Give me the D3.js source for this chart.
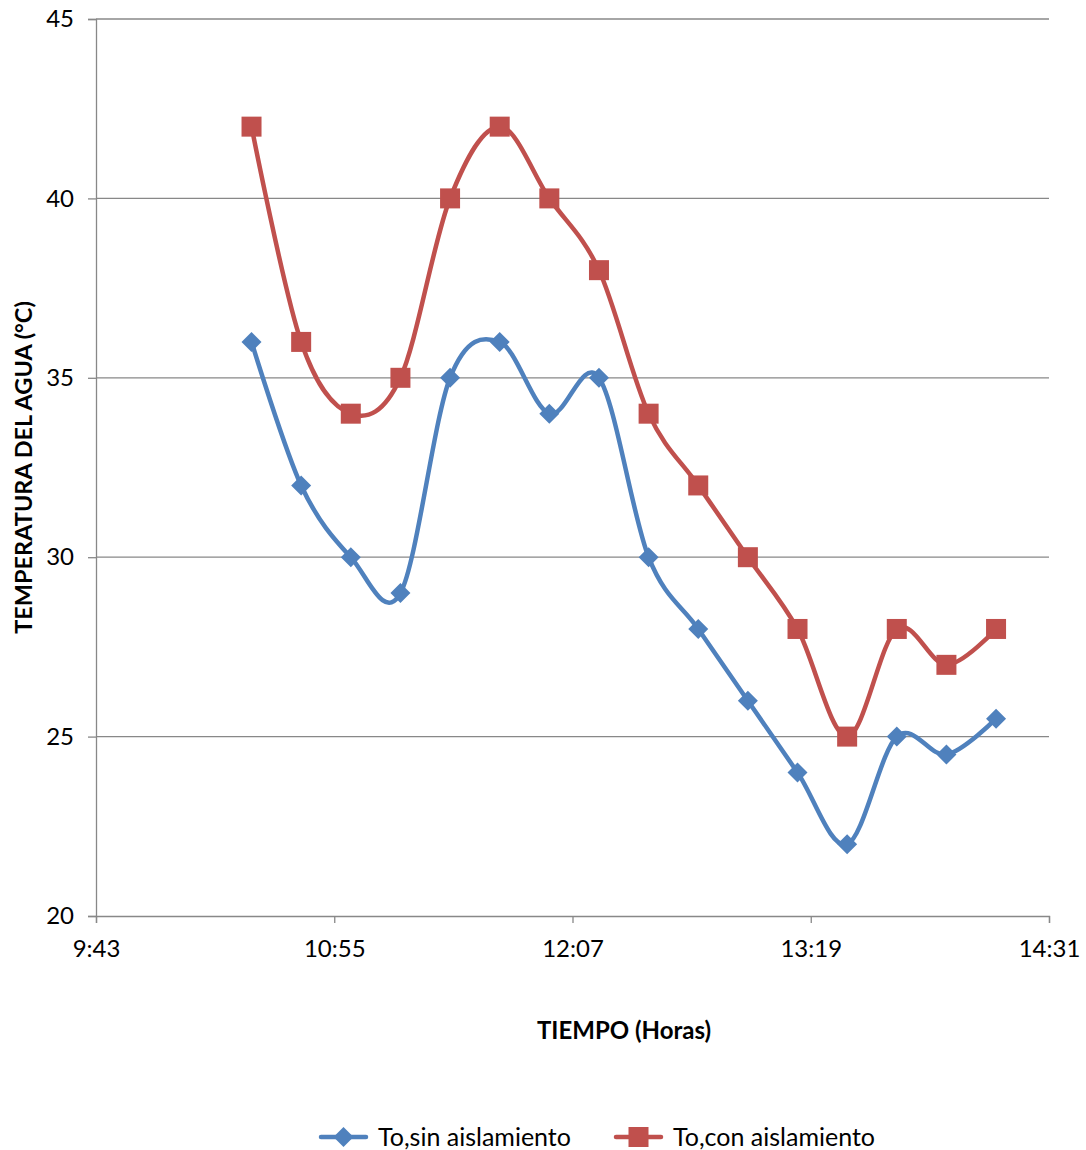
<!DOCTYPE html>
<html>
<head>
<meta charset="utf-8">
<script src="https://cdn.jsdelivr.net/npm/d3@7"></script>
<style>
  html, body { margin: 0; padding: 0; background: #fff; }
  svg { display: block; font-family: Lato, "Open Sans", sans-serif; }
</style>
</head>
<body>
<svg id="chart" width="1086" height="1150"></svg>
<script>
// Sampling times (every 15 minutes) and water temperatures in °C
const times = ["10:30","10:45","11:00","11:15","11:30","11:45","12:00","12:15",
               "12:30","12:45","13:00","13:15","13:30","13:45","14:00","14:15"];
const sinAislamiento = [36, 32, 30, 29, 35, 36, 34, 35, 30, 28, 26, 24, 22, 25, 24.5, 25.5];
const conAislamiento = [42, 36, 34, 35, 40, 42, 40, 38, 34, 32, 30, 28, 25, 28, 27, 28];
const xTickLabels = ["9:43", "10:55", "12:07", "13:19", "14:31"];
const yTicks = [20, 25, 30, 35, 40, 45];
const seriesNames = ["To,sin aislamiento", "To,con aislamiento"];

const toMin = s => { const [h, m] = s.split(":").map(Number); return h * 60 + m; };

const svg = d3.select("#chart");
const plot = { left: 96, right: 1049, top: 19, bottom: 916 };

const x = d3.scaleLinear()
  .domain([toMin(xTickLabels[0]), toMin(xTickLabels[xTickLabels.length - 1])])
  .range([plot.left, plot.right]);
const y = d3.scaleLinear().domain([20, 45]).range([plot.bottom, plot.top]);

const gridColor = "#888888";

// horizontal gridlines
svg.append("g").selectAll("line").data(yTicks.slice(1)).join("line")
  .attr("x1", plot.left).attr("x2", plot.right)
  .attr("y1", d => y(d)).attr("y2", d => y(d))
  .attr("stroke", gridColor).attr("stroke-width", 1.3);

// y axis
const yAxis = svg.append("g").attr("transform", `translate(${plot.left},0)`)
  .call(d3.axisLeft(y).tickValues(yTicks).tickSize(8).tickPadding(14));
yAxis.select(".domain").attr("stroke", gridColor).attr("stroke-width", 1.3);
yAxis.selectAll(".tick line").attr("stroke", gridColor).attr("stroke-width", 1.3);
yAxis.selectAll(".tick text").attr("font-size", 24).attr("fill", "#000")
  .attr("font-family", "Lato, sans-serif");

// x axis
const xAxis = svg.append("g").attr("transform", `translate(0,${plot.bottom})`)
  .call(d3.axisBottom(x).tickValues(xTickLabels.map(toMin))
    .tickFormat((d, i) => xTickLabels[i]).tickSize(7).tickPadding(17));
xAxis.select(".domain").attr("stroke", gridColor).attr("stroke-width", 1.3);
xAxis.selectAll(".tick line").attr("stroke", gridColor).attr("stroke-width", 1.3);
xAxis.selectAll(".tick text").attr("font-size", 24).attr("fill", "#000")
  .attr("font-family", "Lato, sans-serif");

// axis titles
svg.append("text")
  .attr("transform", `translate(32,${(plot.top + plot.bottom) / 2}) rotate(-90)`)
  .attr("text-anchor", "middle").attr("font-size", 23.5).attr("font-weight", "bold")
  .text("TEMPERATURA DEL AGUA (°C)");
svg.append("text")
  .attr("x", 624).attr("y", 1039)
  .attr("text-anchor", "middle").attr("font-size", 24).attr("font-weight", "bold")
  .text("TIEMPO (Horas)");

const line = d3.line()
  .x(d => x(toMin(d.t))).y(d => y(d.v))
  .curve(d3.curveCardinal.tension(0));

const series = [
  { name: seriesNames[0], values: sinAislamiento, color: "#4F81BD", shape: "diamond" },
  { name: seriesNames[1], values: conAislamiento, color: "#C0504D", shape: "square" }
];

function marker(g, shape, color) {
  if (shape === "square") {
    g.append("rect").attr("x", -10).attr("y", -10).attr("width", 20).attr("height", 20)
      .attr("fill", color);
  } else {
    g.append("path").attr("d", "M0,-10L10,0L0,10L-10,0Z").attr("fill", color);
  }
}

series.forEach(s => {
  const pts = times.map((t, i) => ({ t, v: s.values[i] }));
  svg.append("path").datum(pts)
    .attr("d", line).attr("fill", "none")
    .attr("stroke", s.color).attr("stroke-width", 4.5)
    .attr("stroke-linejoin", "round");
  svg.append("g").selectAll("g").data(pts).join("g")
    .attr("transform", d => `translate(${x(toMin(d.t))},${y(d.v)})`)
    .each(function () { marker(d3.select(this), s.shape, s.color); });
});

// legend
const legend = svg.append("g").attr("transform", "translate(0,1137)");
const legendX = [321, 616];
series.forEach((s, i) => {
  const g = legend.append("g").attr("transform", `translate(${legendX[i]},0)`);
  g.append("line").attr("x1", 0).attr("x2", 45).attr("y1", 0).attr("y2", 0)
    .attr("stroke", s.color).attr("stroke-width", 4.5).attr("stroke-linecap", "round");
  const m = g.append("g").attr("transform", "translate(22.5,0)");
  marker(m, s.shape, s.color);
  g.append("text").attr("x", 57).attr("y", 9).attr("font-size", 25).text(s.name);
});
</script>
</body>
</html>
